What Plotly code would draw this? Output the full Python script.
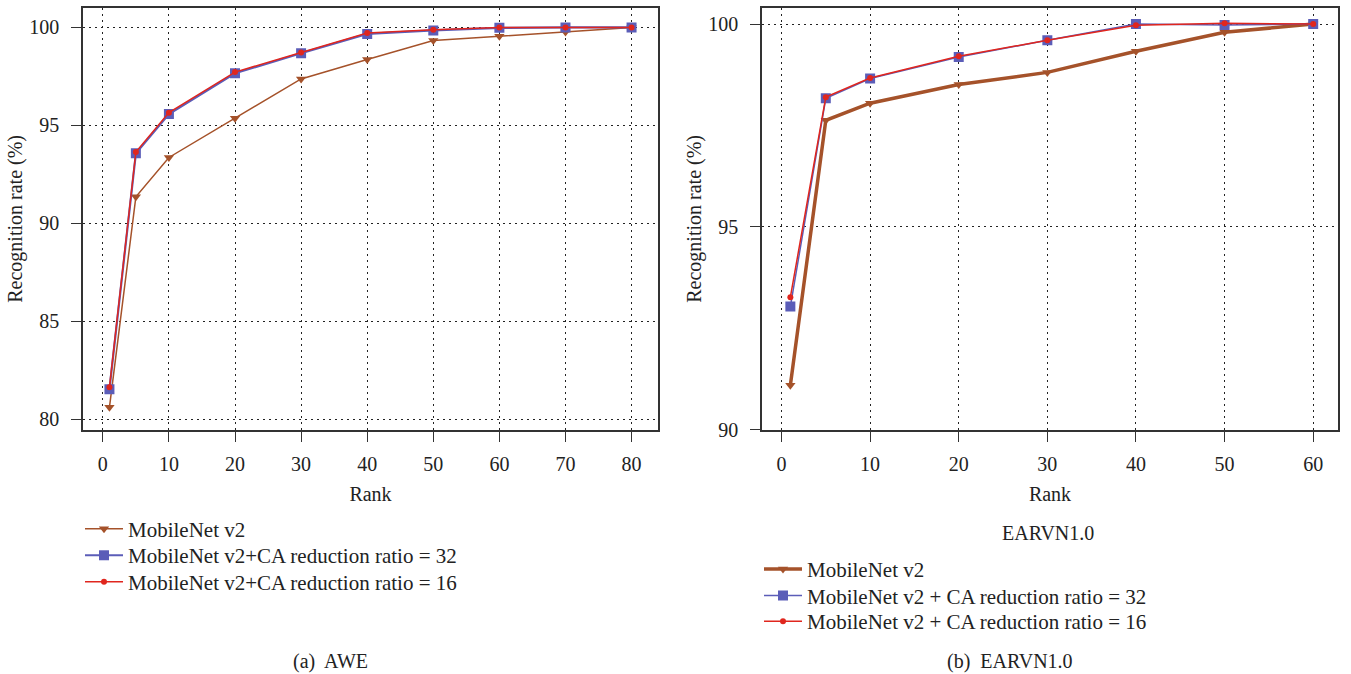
import plotly.graph_objects as go

# ---------------- data ----------------
awe_rank = [1, 5, 10, 20, 30, 40, 50, 60, 70, 80]
awe_mnv2 = [80.6, 91.35, 93.36, 95.36, 97.37, 98.36, 99.33, 99.55, 99.77, 100.0]
awe_ca32 = [81.52, 93.57, 95.58, 97.66, 98.68, 99.67, 99.85, 99.98, 100.0, 100.0]
awe_ca16 = [81.62, 93.64, 95.65, 97.72, 98.72, 99.72, 99.88, 100.0, 100.0, 100.0]

ear_rank = [1, 5, 10, 20, 30, 40, 50, 60]
ear_mnv2 = [91.1, 97.63, 98.05, 98.51, 98.81, 99.33, 99.8, 100.0]
ear_ca32 = [93.04, 98.17, 98.66, 99.19, 99.6, 100.0, 99.98, 100.0]
ear_ca16 = [93.27, 98.2, 98.67, 99.21, 99.6, 99.97, 100.02, 100.0]

names_awe = ["MobileNet v2", "MobileNet v2+CA reduction ratio = 32", "MobileNet v2+CA reduction ratio = 16"]
names_ear = ["MobileNet v2", "MobileNet v2 + CA reduction ratio = 32", "MobileNet v2 + CA reduction ratio = 16"]

# ---------------- style ----------------
BROWN = "#a5522a"
BLUE = "#5b5db8"
RED = "#e0261e"
FONT = "Liberation Serif"
TXT = "#222222"
W, H = 1351, 674

fig = go.Figure()

def add(x, y, name, color, symbol, msize, lw, xa, ya, legend):
    fig.add_trace(go.Scatter(
        x=x, y=y, name=name, mode="lines+markers",
        line=dict(color=color, width=lw),
        marker=dict(symbol=symbol, size=msize, color=color),
        xaxis=xa, yaxis=ya, legend=legend))

add(awe_rank, awe_mnv2, names_awe[0], BROWN, "triangle-down", 9, 1.5, "x", "y", "legend")
add(awe_rank, awe_ca32, names_awe[1], BLUE, "square", 10, 2.2, "x", "y", "legend2")
add(awe_rank, awe_ca16, names_awe[2], RED, "circle", 6, 1.5, "x", "y", "legend3")

add(ear_rank, ear_mnv2, names_ear[0], BROWN, "triangle-down", 9, 3.5, "x2", "y2", "legend4")
add(ear_rank, ear_ca32, names_ear[1], BLUE, "square", 10, 1.5, "x2", "y2", "legend5")
add(ear_rank, ear_ca16, names_ear[2], RED, "circle", 6, 1.5, "x2", "y2", "legend6")

def px_x(p):
    return p / W

def px_y(p):
    return 1 - p / H

axis_common = dict(
    showline=True, mirror=True, linecolor="#333333", linewidth=1.5,
    ticks="outside", ticklen=10, tickcolor="#333333", tickwidth=1.3,
    showgrid=True, gridcolor="#222222", gridwidth=1.4, griddash="2px,4px",
    zeroline=False,
    tickfont=dict(family=FONT, size=20, color=TXT),
    title_font=dict(family=FONT, size=20, color=TXT),
)

xcommon = dict(axis_common, ticklabelstandoff=5)
ycommon = dict(axis_common, ticklabelstandoff=8)

legend_common = dict(xanchor="left", yanchor="top", bgcolor="rgba(0,0,0,0)",
                     font=dict(family=FONT, size=21, color=TXT),
                     tracegroupgap=0, itemwidth=38)

fig.update_layout(
    width=W, height=H,
    margin=dict(l=0, r=0, t=0, b=0),
    paper_bgcolor="white", plot_bgcolor="white",
    font=dict(family=FONT, size=20, color=TXT),
    xaxis=dict(xcommon, domain=[px_x(83), px_x(658)], range=[-3, 84],
               tickvals=[0, 10, 20, 30, 40, 50, 60, 70, 80],
               title=dict(text="Rank", standoff=13), anchor="y"),
    yaxis=dict(ycommon, domain=[px_y(437), px_y(8)], range=[79.45, 101],
               tickvals=[80, 85, 90, 95, 100],
               title=dict(text="Recognition rate (%)", standoff=1), anchor="x"),
    xaxis2=dict(xcommon, domain=[px_x(762), px_x(1338)], range=[-2.2, 62.8],
                tickvals=[0, 10, 20, 30, 40, 50, 60],
                title=dict(text="Rank", standoff=13), anchor="y2"),
    yaxis2=dict(ycommon, domain=[px_y(437), px_y(8)], range=[90, 100.4],
                tickvals=[90, 95, 100],
                title=dict(text="Recognition rate (%)", standoff=1), anchor="x2"),
    legend=dict(legend_common, x=px_x(80), y=px_y(517)),
    legend2=dict(legend_common, x=px_x(80), y=px_y(544)),
    legend3=dict(legend_common, x=px_x(80), y=px_y(571)),
    legend4=dict(legend_common, x=px_x(759), y=px_y(558)),
    legend5=dict(legend_common, x=px_x(759), y=px_y(585)),
    legend6=dict(legend_common, x=px_x(759), y=px_y(611)),
    showlegend=True,
)

def label(text, x, y):
    fig.add_annotation(text=text, x=px_x(x), y=px_y(y), xref="paper", yref="paper",
                       xanchor="center", yanchor="middle", showarrow=False,
                       font=dict(family=FONT, size=20, color=TXT))

label("EARVN1.0", 1048, 542)
label("(a)  AWE", 330, 672)
label("(b)  EARVN1.0", 1010, 672)

fig.write_html("out.html")
